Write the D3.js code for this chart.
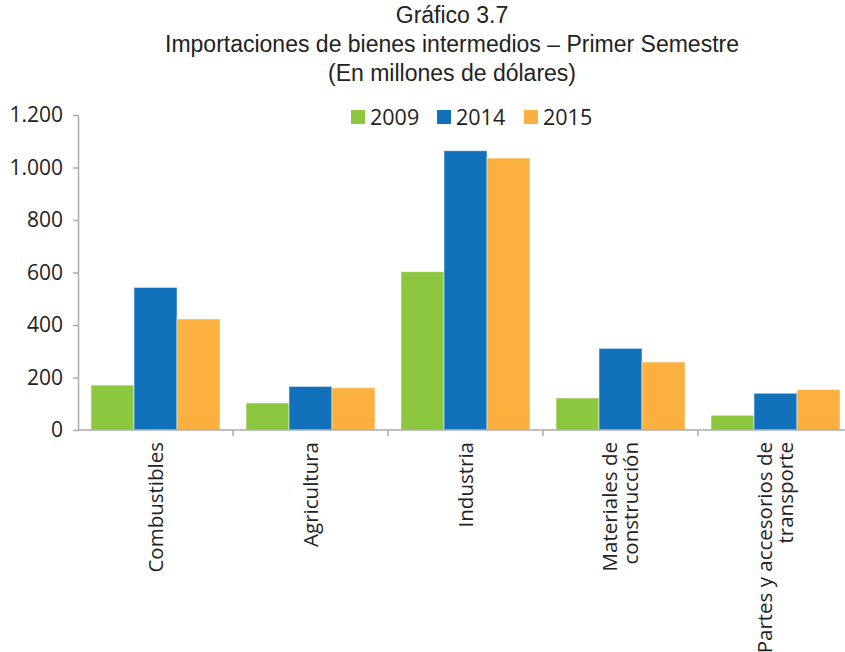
<!DOCTYPE html>
<html>
<head>
<meta charset="UTF-8">
<title>Importaciones de bienes intermedios</title>
<script src="https://cdn.jsdelivr.net/npm/d3@7"></script>
<style>
body { margin: 0; background: #fff; }
.title text { font: 23px "Liberation Sans", Arial, sans-serif; fill: #222; }
.axis text { font: 21px "Open Sans", sans-serif; fill: #222; }
.xlab text { font-size: 20.5px; }
.legend text { font: 21.5px "Open Sans", sans-serif; fill: #222; }
.axis path, .axis line { stroke: #aaa; stroke-width: 1.5px; }
</style>
</head>
<body>
<svg width="845" height="652"></svg>
<script>
var categories = ["Combustibles", "Agricultura", "Industria", "Materiales de\nconstrucción", "Partes y accesorios de\ntransporte"];
var years = ["2009", "2014", "2015"];
var values2009 = [171, 103, 603, 122, 56];
var values2014 = [543, 166, 1064, 311, 140];
var values2015 = [423, 161, 1036, 259, 154];
var yTicks = [0, 200, 400, 600, 800, 1000, 1200];
var colors = ["#8dc63f", "#1172bb", "#fbb040"];

var series = [values2009, values2014, values2015];
var data = categories.map(function(c, i) {
  return { cat: c, vals: series.map(function(s) { return s[i]; }) };
});

var svg = d3.select("svg");

// titulo
var title = svg.append("g").attr("class", "title").attr("text-anchor", "middle");
["Gráfico 3.7", "Importaciones de bienes intermedios – Primer Semestre", "(En millones de dólares)"]
  .forEach(function(t, i) {
    title.append("text").attr("x", 452).attr("y", 23 + i * 29).text(t);
  });

var x = d3.scaleBand().domain(categories).range([78, 853])
    .paddingInner(0.168).paddingOuter(0.084);
var x1 = d3.scaleBand().domain(years).range([0, x.bandwidth()]);
var y = d3.scaleLinear().domain([0, 1200]).range([430, 115]);

var fmt = function(d) { return d3.format(",")(d).replace(/,/g, "."); };

// eje y
var gy = svg.append("g").attr("class", "axis")
    .attr("transform", "translate(78,0)")
    .call(d3.axisLeft(y).tickValues(yTicks).tickFormat(fmt).tickSize(5).tickPadding(10).tickSizeOuter(0));

// barras
var groups = svg.selectAll(".grp").data(data).enter().append("g")
    .attr("transform", function(d) { return "translate(" + x(d.cat) + ",0)"; });
groups.selectAll("rect").data(function(d) { return d.vals; }).enter().append("rect")
    .attr("x", function(d, i) { return x1(years[i]); })
    .attr("y", function(d) { return y(d); })
    .attr("width", x1.bandwidth())
    .attr("height", function(d) { return y(0) - y(d); })
    .attr("fill", function(d, i) { return colors[i]; })
    .attr("stroke", "#fff").attr("stroke-opacity", 0.5).attr("stroke-width", 1);

// eje x
var gx = svg.append("g").attr("class", "axis xlab").attr("transform", "translate(0,430)");
gx.append("line").attr("x1", 78).attr("x2", 845).attr("y1", 0).attr("y2", 0);
var bounds = categories.map(function(c) { return x(c) - x.step() * 0.084; }).slice(1);
gx.selectAll(".tk").data(bounds).enter().append("line")
    .attr("x1", function(d) { return d; }).attr("x2", function(d) { return d; })
    .attr("y1", 0).attr("y2", 6);

var labels = gx.selectAll(".lbl").data(categories).enter().append("text")
    .attr("text-anchor", "end")
    .attr("transform", function(d) {
      return "translate(" + (x(d) + x.bandwidth() / 2) + ",12) rotate(-90)";
    });
labels.each(function(d) {
  var lines = d.split("\n");
  var t = d3.select(this);
  lines.forEach(function(l, i) {
    t.append("tspan").attr("x", 0)
      .attr("y", 7 + (i - (lines.length - 1) / 2) * 21)
      .text(l);
  });
});

// leyenda
var legend = svg.append("g").attr("class", "legend");
var lx = [351, 437, 524];
years.forEach(function(yr, i) {
  legend.append("rect").attr("x", lx[i]).attr("y", 110).attr("width", 14).attr("height", 14).attr("fill", colors[i]);
  legend.append("text").attr("x", lx[i] + 19).attr("y", 125).text(yr);
});
</script>
</body>
</html>
